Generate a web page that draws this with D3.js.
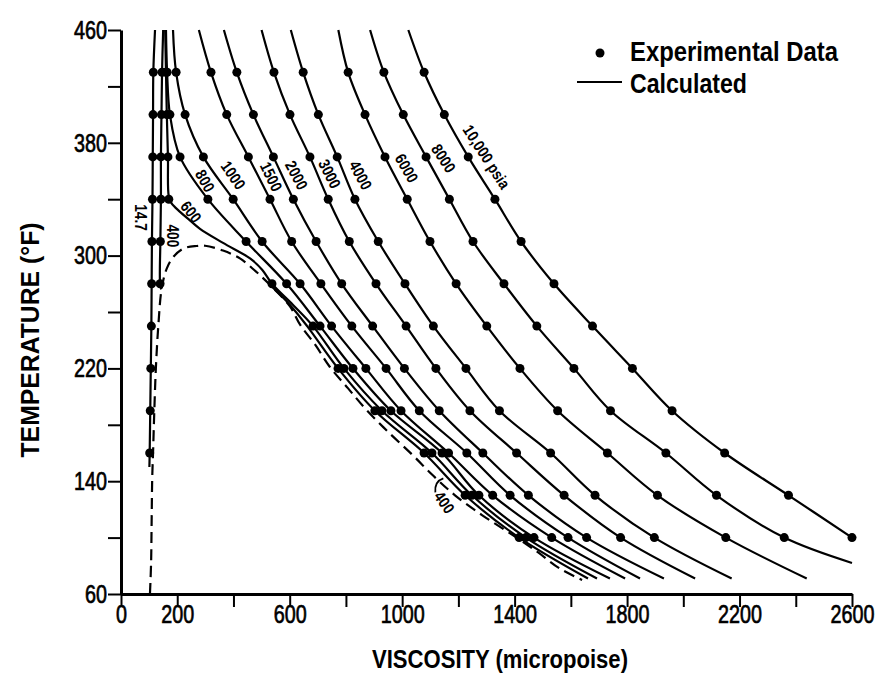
<!DOCTYPE html>
<html>
<head>
<meta charset="utf-8">
<script src="https://cdn.jsdelivr.net/npm/d3@7"></script>
<style>
  body { margin: 0; background: #fff; }
  svg { display: block; }
  text { font-family: "Liberation Sans", Arial, sans-serif; fill: #000; }
</style>
</head>
<body>
<svg id="chart" width="888" height="693"></svg>
<script>
// Axis ticks and labels
const xTickValues = [0, 200, 400, 600, 800, 1000, 1200, 1400, 1600, 1800, 2000, 2200, 2400, 2600];
const xTickLabels = [0, 200, 600, 1000, 1400, 1800, 2200, 2600];
const yTickValues = [60, 100, 140, 180, 220, 260, 300, 340, 380, 420, 460];
const yTickLabels = [60, 140, 220, 300, 380, 460];

// Isobars: [viscosity (micropoise), temperature (°F)]
const calc_14_7 = [[121,460],[115,430],[114,400],[113,370],[112,340],[110,310],[109,280],[108,250],[106,220],[104,190],[102,160],[101,150]];
const exp_14_7  = [[115,430],[114,400],[113,370],[112,340],[110,310],[109,280],[108,250],[106,220],[104,190],[102,160]];

const calc_400v = [[150,460],[146,430],[144,400],[142,370],[142,340],[140,310],[139,280],[143,276]];
const exp_400v  = [[146,430],[144,400],[142,370],[142,340],[140,310],[139,280]];

const calc_400l = [[526,280],[601,265],[662,250],[772,220],[903,190],[1078,160],[1224,130],[1416,100],[1661,71]];
const exp_400l  = [[772,220],[903,190],[1078,160],[1224,130],[1416,100]];

const calc_600 = [[157,460],[160,430],[163,400],[167,370],[170,342],[180,337],[210,331],[245,325],[281,319],[363,309],[459,298],[502,290],[537,280],[612,265],[683,250],[793,220],[928,190],[1106,160],[1248,130],[1440,100],[1693,71]];
const exp_600  = [[160,430],[163,400],[167,370],[170,340],[537,280],[683,250],[793,220],[928,190],[1106,160],[1248,130],[1440,100]];

const calc_800 = [[160,460],[164,430],[174,400],[210,370],[309,340],[445,310],[589,280],[708,250],[825,220],[960,190],[1142,160],[1273,130],[1469,100],[1739,71]];
const exp_800  = [[164,430],[174,400],[210,370],[309,340],[445,310],[589,280],[708,250],[825,220],[960,190],[1142,160],[1273,130],[1469,100]];

const calc_1000 = [[185,460],[196,430],[228,400],[293,370],[399,340],[502,310],[637,280],[749,250],[871,220],[996,190],[1165,160],[1322,130],[1532,100],[1793,71]];
const exp_1000  = [[196,430],[228,400],[293,370],[399,340],[502,310],[637,280],[749,250],[871,220],[996,190],[1165,160],[1322,130],[1532,100]];

const calc_1500 = [[277,460],[320,430],[376,400],[453,370],[530,340],[607,310],[711,280],[821,250],[943,220],[1061,190],[1230,160],[1384,130],[1590,100],[1846,71]];
const exp_1500  = [[320,430],[376,400],[453,370],[530,340],[607,310],[711,280],[821,250],[943,220],[1061,190],[1230,160],[1384,130],[1590,100]];

const calc_2000 = [[366,460],[412,430],[471,400],[542,370],[613,340],[694,310],[785,280],[895,250],[1008,220],[1132,190],[1287,160],[1449,130],[1656,100],[1931,71]];
const exp_2000  = [[412,430],[471,400],[542,370],[613,340],[694,310],[785,280],[895,250],[1008,220],[1132,190],[1287,160],[1449,130],[1656,100]];

const calc_3000 = [[500,460],[544,430],[601,400],[672,370],[737,340],[812,310],[907,280],[1014,250],[1120,220],[1241,190],[1407,160],[1576,130],[1777,100],[2042,71]];
const exp_3000  = [[544,430],[601,400],[672,370],[737,340],[812,310],[907,280],[1014,250],[1120,220],[1241,190],[1407,160],[1576,130],[1777,100]];

const calc_4000 = [[604,460],[648,430],[702,400],[769,370],[832,340],[915,310],[1010,280],[1111,250],[1227,220],[1346,190],[1528,160],[1686,130],[1897,100],[2172,71]];
const exp_4000  = [[648,430],[702,400],[769,370],[832,340],[915,310],[1010,280],[1111,250],[1227,220],[1346,190],[1528,160],[1686,130],[1897,100]];

const calc_6000 = [[773,460],[808,430],[868,400],[939,370],[1018,340],[1099,310],[1192,280],[1301,250],[1419,220],[1553,190],[1730,160],[1908,130],[2151,100],[2439,71]];
const exp_6000  = [[808,430],[868,400],[939,370],[1018,340],[1099,310],[1192,280],[1301,250],[1419,220],[1553,190],[1730,160],[1908,130],[2151,100]];

const calc_8000 = [[886,460],[935,430],[1004,400],[1085,370],[1168,340],[1252,310],[1362,280],[1479,250],[1611,220],[1741,190],[1938,160],[2118,130],[2359,100],[2600,82]];
const exp_8000  = [[935,430],[1004,400],[1085,370],[1168,340],[1252,310],[1362,280],[1479,250],[1611,220],[1741,190],[1938,160],[2118,130],[2359,100]];

const calc_10000 = [[1022,460],[1078,430],[1150,400],[1235,370],[1330,340],[1423,310],[1540,280],[1677,250],[1819,220],[1960,190],[2147,160],[2374,130],[2600,100]];
const exp_10000  = [[1078,430],[1150,400],[1235,370],[1330,340],[1423,310],[1540,280],[1677,250],[1819,220],[1960,190],[2147,160],[2374,130],[2600,100]];

// Two-phase envelope (saturated vapour branch, then saturated liquid branch)
const saturation = [[103,60],[107,82],[109,112],[111,142],[114,160],[118,187],[124,220],[133,251],[145,277],[163,291],[186,299],[222,305],[269,306.8],[299,307],
  [363,303.6],[423,298],[484,288],[541,277],[601,264],[637,251],[690,237],[743,221],[807,206],[871,191],[950,175],[1035,159],[1110,144],[1188,130],[1284,116],[1384,103],[1480,90],[1561,78],[1640,70]];

// Curve labels: text, anchor [viscosity, temperature], rotation
const curveLabels = [
  { text: "14.7", v: 68, t: 327, angle: 90 },
  { text: "400", v: 183, t: 314, angle: 90 },
  { text: "600", v: 249, t: 331, angle: 52 },
  { text: "800", v: 299, t: 353, angle: 60 },
  { text: "1000", v: 399, t: 357, angle: 55 },
  { text: "1500", v: 534, t: 356, angle: 64 },
  { text: "2000", v: 624, t: 357, angle: 62 },
  { text: "3000", v: 742, t: 358, angle: 63 },
  { text: "4000", v: 852, t: 357, angle: 62 },
  { text: "6000", v: 1016, t: 362, angle: 60 },
  { text: "8000", v: 1147, t: 369, angle: 57 },
  { text: "10,000 psia", v: 1300, t: 370, angle: 57 },
  { text: "400", v: 1150, t: 125, angle: 55 }
];

const solidCurves = [calc_14_7, calc_400v, calc_400l, calc_600, calc_800, calc_1000, calc_1500, calc_2000, calc_3000, calc_4000, calc_6000, calc_8000, calc_10000];
const expSets = [exp_14_7, exp_400v, exp_400l, exp_600, exp_800, exp_1000, exp_1500, exp_2000, exp_3000, exp_4000, exp_6000, exp_8000, exp_10000];

const svg = d3.select("#chart");
const x = d3.scaleLinear().domain([0, 2600]).range([121, 852]);
const y = d3.scaleLinear().domain([60, 460]).range([594, 30]);

const line = d3.line()
  .x(d => x(d[0]))
  .y(d => y(d[1]))
  .curve(d3.curveCatmullRom.alpha(0.5));

// Calculated isobars
svg.append("g")
  .selectAll("path")
  .data(solidCurves)
  .join("path")
  .attr("d", line)
  .attr("fill", "none")
  .attr("stroke", "#000")
  .attr("stroke-width", 2.2);

// Saturation envelope
svg.append("path")
  .datum(saturation)
  .attr("d", line)
  .attr("fill", "none")
  .attr("stroke", "#000")
  .attr("stroke-width", 2.2)
  .attr("stroke-dasharray", "11,6");

// Experimental points
svg.append("g")
  .selectAll("circle")
  .data(expSets.flat())
  .join("circle")
  .attr("cx", d => x(d[0]))
  .attr("cy", d => y(d[1]))
  .attr("r", 4.5)
  .attr("fill", "#000");

// Curve labels
svg.append("g")
  .selectAll("text")
  .data(curveLabels)
  .join("text")
  .attr("transform", d => `translate(${x(d.v)},${y(d.t)}) rotate(${d.angle}) scale(0.85,1)`)
  .attr("text-anchor", "middle")
  .attr("dy", "0.35em")
  .attr("font-size", 16)
  .attr("font-weight", "bold")
  .text(d => d.text);

// Bracket pointing from the lower "400" label to its liquid branch
{
  const lb = curveLabels[curveLabels.length - 1];
  const bx = x(lb.v) - 7, by = y(lb.t) - 24;
  svg.append("path")
    .attr("d", `M${bx + 6},${by} Q${bx - 3},${by + 3} ${bx - 2},${by + 14}`)
    .attr("fill", "none")
    .attr("stroke", "#000")
    .attr("stroke-width", 1.8);
}

// Axes
const xAxis = d3.axisBottom(x)
  .tickValues(xTickValues)
  .tickSize(13)
  .tickSizeOuter(0)
  .tickFormat(d => xTickLabels.includes(d) ? String(d) : "");
const gx = svg.append("g").attr("transform", `translate(0,${y(60)})`).call(xAxis);
gx.select(".domain").attr("stroke-width", 3);
gx.selectAll(".tick line").attr("stroke-width", 2);
gx.selectAll(".tick text")
  .attr("font-size", 26)
  .attr("font-family", "Liberation Sans, Arial, sans-serif")
  .attr("stroke", "#000")
  .attr("stroke-width", 0.7)
  .attr("y", 11)
  .attr("transform", "scale(0.76,1)");

const yAxis = d3.axisLeft(y)
  .tickValues(yTickValues)
  .tickSize(13)
  .tickSizeOuter(0)
  .tickFormat(d => yTickLabels.includes(d) ? String(d) : "");
const gy = svg.append("g").attr("transform", `translate(${x(0)},0)`).call(yAxis);
gy.select(".domain").attr("stroke-width", 3);
gy.selectAll(".tick line").attr("stroke-width", 2);
gy.selectAll(".tick text")
  .attr("font-size", 26)
  .attr("font-family", "Liberation Sans, Arial, sans-serif")
  .attr("stroke", "#000")
  .attr("stroke-width", 0.7)
  .attr("x", -14 / 0.76)
  .attr("transform", "scale(0.76,1)");

// Axis titles
svg.append("text")
  .attr("x", 500)
  .attr("y", 668)
  .attr("text-anchor", "middle")
  .attr("font-size", 25)
  .attr("font-weight", "bold")
  .attr("textLength", 256)
  .attr("lengthAdjust", "spacingAndGlyphs")
  .text("VISCOSITY (micropoise)");

svg.append("text")
  .attr("transform", "translate(39,340) rotate(-90)")
  .attr("text-anchor", "middle")
  .attr("font-size", 25)
  .attr("font-weight", "bold")
  .attr("textLength", 235)
  .attr("lengthAdjust", "spacingAndGlyphs")
  .text("TEMPERATURE (°F)");

// Legend
const legend = svg.append("g");
legend.append("circle").attr("cx", 600).attr("cy", 53).attr("r", 4.5).attr("fill", "#000");
legend.append("text")
  .attr("x", 630).attr("y", 61)
  .attr("font-size", 28).attr("font-weight", "bold")
  .attr("textLength", 208).attr("lengthAdjust", "spacingAndGlyphs")
  .text("Experimental Data");
legend.append("line")
  .attr("x1", 577).attr("x2", 622).attr("y1", 82).attr("y2", 82)
  .attr("stroke", "#000").attr("stroke-width", 2);
legend.append("text")
  .attr("x", 630).attr("y", 93)
  .attr("font-size", 28).attr("font-weight", "bold")
  .attr("textLength", 117).attr("lengthAdjust", "spacingAndGlyphs")
  .text("Calculated");
</script>
</body>
</html>
